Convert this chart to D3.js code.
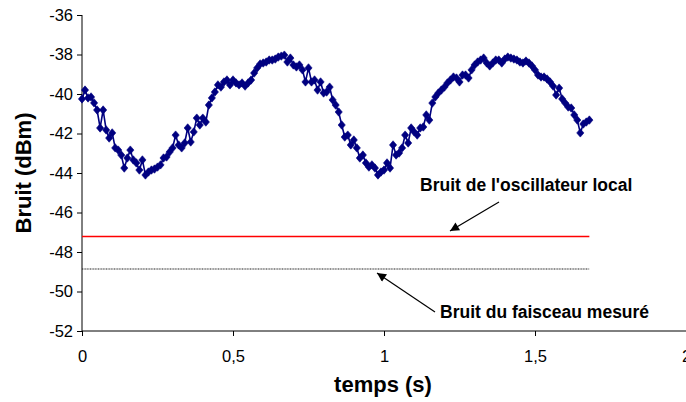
<!DOCTYPE html>
<html><head><meta charset="utf-8">
<script src="https://cdn.jsdelivr.net/npm/d3@7"></script>
<style>body{margin:0;background:#fff}svg{display:block;font-family:Arial,"Liberation Sans",sans-serif}</style>
</head><body><svg id="c" width="686" height="402"></svg>
<script>
// ---- data ----
const dt = 0.01; // sampling step (s)
const bruit = [
-40.25,-39.80,-40.20,-40.15,-40.45,-40.81,-41.72,-40.81,-41.82,-42.23,
-41.97,-42.73,-42.84,-43.09,-43.75,-43.24,-42.84,-43.34,-43.49,-43.85,
-43.34,-44.10,-43.95,-43.85,-43.80,-43.70,-43.59,-43.24,-43.19,-42.94,
-42.73,-42.08,-42.58,-42.73,-42.48,-41.72,-42.43,-41.92,-41.22,-41.57,
-41.22,-41.42,-40.56,-40.20,-39.90,-39.54,-39.65,-39.39,-39.29,-39.54,
-39.29,-39.44,-39.54,-39.44,-39.60,-39.44,-39.29,-38.94,-38.68,-38.48,
-38.43,-38.38,-38.28,-38.28,-38.23,-38.13,-38.08,-38.03,-38.38,-38.18,
-38.53,-38.63,-38.53,-38.78,-39.39,-38.68,-39.39,-39.29,-39.80,-39.39,
-39.95,-39.90,-39.65,-40.30,-40.56,-40.91,-41.57,-42.18,-42.08,-42.58,
-42.33,-42.73,-43.24,-43.09,-43.49,-43.70,-43.59,-43.75,-44.10,-43.95,
-43.85,-43.49,-43.75,-42.58,-43.09,-42.99,-42.73,-42.08,-42.48,-41.72,
-41.92,-42.08,-41.72,-41.67,-41.06,-41.32,-40.46,-40.15,-39.95,-39.80,
-39.65,-39.44,-39.29,-39.14,-39.19,-39.39,-39.04,-39.04,-39.19,-38.78,
-38.53,-38.38,-38.28,-38.18,-38.43,-38.58,-38.43,-38.28,-38.28,-38.43,
-38.23,-38.13,-38.18,-38.23,-38.28,-38.38,-38.43,-38.33,-38.43,-38.58,
-38.78,-39.04,-39.14,-39.14,-39.24,-39.39,-39.60,-40.05,-39.70,-40.25,
-40.46,-40.66,-40.71,-41.06,-41.32,-41.97,-41.52,-41.42,-41.32
];
const bruitOL = -47.22;      // Bruit de l'oscillateur local
const bruitFaisceau = -48.86; // Bruit du faisceau mesuré
const tFin = 1.68;
const yTicks = [-52,-50,-48,-46,-44,-42,-40,-38,-36];
const xTicks = [0,0.5,1,1.5,2];
const xTitle = "temps (s)";
const yTitle = "Bruit (dBm)";
const labelOL = "Bruit de l'oscillateur local";
const labelF = "Bruit du faisceau mesuré";

// ---- chart ----
const svg = d3.select("#c");
const x = d3.scaleLinear().domain([0,2]).range([82,686]);
const y = d3.scaleLinear().domain([-52,-36]).range([331,15]);
const fmt = d => String(d).replace(".", ",");

const ya = svg.append("g").attr("transform","translate(82,0)")
  .call(d3.axisLeft(y).tickValues(yTicks).tickSize(5).tickPadding(4).tickFormat(d=>String(d)));
const xa = svg.append("g").attr("transform","translate(0,331)")
  .call(d3.axisBottom(x).tickValues(xTicks).tickSize(5).tickPadding(14).tickFormat(fmt));
[ya,xa].forEach(a=>{
  a.select(".domain").attr("stroke","#000").attr("stroke-width",1);
  a.selectAll(".tick line").attr("stroke","#000");
  a.selectAll("text").attr("font-size",16.5).attr("fill","#000").attr("font-family","Arial, 'Liberation Sans', sans-serif");
});
ya.select(".domain").attr("d","M0,15V331.5");
xa.select(".domain").attr("d","M82,0H686");

// reference lines
svg.append("line").attr("x1",x(0)).attr("x2",x(tFin)).attr("y1",y(bruitOL)).attr("y2",y(bruitOL))
  .attr("stroke","#ff0000").attr("stroke-width",1.5);
svg.append("line").attr("x1",x(0)).attr("x2",x(tFin)).attr("y1",y(bruitFaisceau)).attr("y2",y(bruitFaisceau))
  .attr("stroke","#222").attr("stroke-width",1.2).attr("stroke-dasharray","1,0.6");

// data line
const pts = bruit.map((v,i)=>[i*dt, v]);
svg.append("path").datum(pts)
  .attr("d", d3.line().x(d=>x(d[0])).y(d=>y(d[1])))
  .attr("fill","none").attr("stroke","#000080").attr("stroke-width",1.6);
const diamond = {draw(ctx){ctx.moveTo(0,-4.2);ctx.lineTo(3.6,0);ctx.lineTo(0,4.2);ctx.lineTo(-3.6,0);ctx.closePath();}};
svg.append("g").selectAll("path").data(pts).join("path")
  .attr("transform",d=>`translate(${x(d[0])},${y(d[1])})`)
  .attr("d", d3.symbol().type(diamond)())
  .attr("fill","#000080").attr("stroke","#000080").attr("stroke-width",0.6);

// arrows
const defs = svg.append("defs");
defs.append("marker").attr("id","ah").attr("viewBox","0 0 10 10").attr("refX",10).attr("refY",5)
  .attr("markerWidth",12).attr("markerHeight",9).attr("markerUnits","userSpaceOnUse").attr("orient","auto")
  .append("path").attr("d","M0,0L10,5L0,10Z").attr("fill","#000");
svg.append("line").attr("x1",499).attr("y1",202).attr("x2",450).attr("y2",231)
  .attr("stroke","#000").attr("stroke-width",1.2).attr("marker-end","url(#ah)");
svg.append("line").attr("x1",435).attr("y1",312).attr("x2",377).attr("y2",273)
  .attr("stroke","#000").attr("stroke-width",1.2).attr("marker-end","url(#ah)");

// annotations
svg.append("text").attr("x",420).attr("y",191).attr("font-size",17.5).attr("font-weight","bold").text(labelOL);
svg.append("text").attr("x",440).attr("y",318).attr("font-size",17.5).attr("font-weight","bold").text(labelF);

// axis titles
svg.append("text").attr("x",383).attr("y",392).attr("text-anchor","middle")
  .attr("font-size",22).attr("font-weight","bold").text(xTitle);
svg.append("text").attr("transform","translate(31,173) rotate(-90)").attr("text-anchor","middle")
  .attr("font-size",22).attr("font-weight","bold").text(yTitle);
</script></body></html>
